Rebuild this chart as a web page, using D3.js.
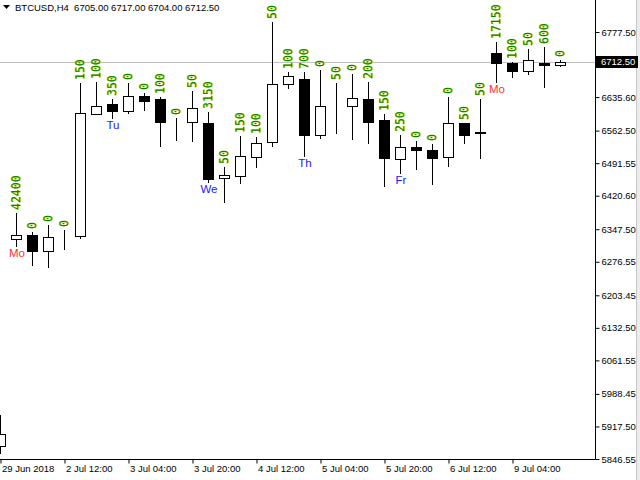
<!DOCTYPE html>
<html>
<head>
<meta charset="utf-8">
<script src="https://cdn.jsdelivr.net/npm/d3@7"></script>
<style>
  body { margin: 0; background: #fff; }
  text { font-family: Tahoma, 'Liberation Sans', Arial, sans-serif; }
</style>
</head>
<body>
<script>
const w = 640
const h = 480
const plotRight = 595
const plotBottom = 459

// H4 bars, 29 Jun 2018 20:00 .. 9 Jul 2018 16:00
const opens = [5875, 6325.5, 6335, 6300.5, 6330, 6332.5, 6598, 6620.5, 6606, 6637.5, 6631.5, 6582.5, 6582, 6578.5, 6458.5, 6464, 6504.5, 6537, 6663.5, 6675, 6553.5, 6615.5, 6615.5, 6631.5, 6585.5, 6501, 6527, 6520, 6504.5, 6578.5, 6559, 6732.5, 6710.5, 6693, 6710, 6705]
const highs = [5942.5, 6382, 6342, 6356.5, 6346, 6665.5, 6669, 6631, 6667, 6644, 6636.5, 6589.5, 6649.5, 6602.5, 6484, 6550.5, 6549, 6800, 6691, 6691, 6694.5, 6667, 6686, 6669, 6598.5, 6553, 6540, 6532.5, 6636.5, 6579, 6631, 6755, 6713, 6740.5, 6745.5, 6717]
const lows = [5860.5, 6311, 6269.5, 6266, 6303.5, 6327.5, 6598, 6589.5, 6601.5, 6607.5, 6529.5, 6542, 6540.5, 6451, 6407.5, 6449, 6484, 6529.5, 6654.5, 6508, 6547, 6558, 6543.5, 6536, 6442.5, 6470.5, 6479.5, 6447, 6486, 6536, 6503.5, 6669, 6680, 6685.5, 6658, 6704]
const closes = [5901, 6335, 6300.5, 6330, 6330.5, 6600, 6616, 6606, 6637.5, 6627.5, 6582, 6582.5, 6611, 6457, 6465.5, 6507, 6535, 6663.5, 6681, 6553.5, 6615.5, 6616, 6633, 6582, 6503.5, 6527, 6519.5, 6503.5, 6578.5, 6553.5, 6557, 6709.5, 6693, 6716, 6705, 6712.5]
const tickVolumes = ['', '42400', '0', '0', '0', '150', '100', '350', '0', '0', '100', '0', '50', '3150', '50', '150', '100', '50', '100', '700', '0', '50', '0', '200', '150', '250', '0', '0', '0', '50', '50', '17150', '100', '50', '600', '0']

const dayIndex = [1, 7, 13, 19, 25, 31]
const dayNames = ['Mo', 'Tu', 'We', 'Th', 'Fr', 'Mo']

const timeTickIndex = [0, 4, 8, 12, 16, 20, 24, 28, 32]
const timeTickLabels = ['29 Jun 2018', '2 Jul 12:00', '3 Jul 04:00', '3 Jul 20:00', '4 Jul 12:00', '5 Jul 04:00', '5 Jul 20:00', '6 Jul 12:00', '9 Jul 04:00']

const priceTicks = [6777.50, 6706.55, 6635.60, 6562.50, 6491.55, 6420.60, 6347.50, 6276.55, 6203.45, 6132.50, 6061.55, 5988.45, 5917.50, 5846.55]

const header = 'BTCUSD,H4  6705.00 6717.00 6704.00 6712.50'
const lastPrice = 6712.50

const bars = opens.map((o, i) => ({ i, o, h: highs[i], l: lows[i], c: closes[i], v: tickVolumes[i] }))

const xScale = d3.scaleLinear()
  .domain([0, bars.length - 1])
  .range([0, 16 * (bars.length - 1)])

const yScale = d3.scaleLinear()
  .domain([5846.55, 6777.50])
  .range([plotBottom, 32])

const svg = d3.select('body').append('svg')
  .attr('width', w)
  .attr('height', h)
  .style('display', 'block')

svg.append('clipPath').attr('id', 'plot')
  .append('rect')
  .attr('x', 0).attr('y', 0)
  .attr('width', plotRight).attr('height', plotBottom)

// right edge strip
svg.append('rect')
  .attr('x', 637).attr('y', 0)
  .attr('width', 3).attr('height', h)
  .attr('fill', '#ececec')
svg.append('line')
  .attr('x1', 636.5).attr('x2', 636.5)
  .attr('y1', 0).attr('y2', h)
  .attr('stroke', '#c8c8c8')

// price line
svg.append('line')
  .attr('x1', 0).attr('x2', plotRight)
  .attr('y1', Math.round(yScale(lastPrice)) + 0.5)
  .attr('y2', Math.round(yScale(lastPrice)) + 0.5)
  .attr('stroke', '#c0c0c0')

const px = v => Math.round(xScale(v))
const py = v => Math.round(yScale(v))

const plot = svg.append('g').attr('clip-path', 'url(#plot)')

const candle = plot.selectAll('g.candle')
  .data(bars)
  .join('g')
  .attr('class', 'candle')

candle.append('line')
  .attr('x1', d => px(d.i) + 0.5)
  .attr('x2', d => px(d.i) + 0.5)
  .attr('y1', d => py(d.h))
  .attr('y2', d => py(d.l) + 1)
  .attr('stroke', '#000')

candle.append('rect')
  .attr('x', d => px(d.i) - 4.5)
  .attr('y', d => py(Math.max(d.o, d.c)) + 0.5)
  .attr('width', 10)
  .attr('height', d => Math.max(0, py(Math.min(d.o, d.c)) - py(Math.max(d.o, d.c))))
  .attr('fill', d => d.c >= d.o ? '#fff' : '#000')
  .attr('stroke', '#000')

// tick volume labels above each bar
const vol = svg.selectAll('g.vol')
  .data(bars.filter(d => d.v !== ''))
  .join('g')
  .attr('class', 'vol')
  .attr('transform', d => 'translate(' + px(d.i) + ',' + (py(d.h) - 3) + ') rotate(-90)')

vol.append('text')
  .attr('y', 0.8)
  .attr('dy', '0.36em')
  .attr('fill', '#d8d800')
  .style('font-family', "'DejaVu Sans Mono', monospace")
  .style('font-size', '11.5px')
  .text(d => d.v)

vol.append('text')
  .attr('dy', '0.36em')
  .attr('fill', '#008800')
  .style('font-family', "'DejaVu Sans Mono', monospace")
  .style('font-size', '11.5px')
  .text(d => d.v)

// day separators
svg.selectAll('text.day')
  .data(dayIndex)
  .join('text')
  .attr('class', 'day')
  .attr('x', d => px(d) + 1)
  .attr('y', d => py(lows[d]) + 11)
  .attr('text-anchor', 'middle')
  .attr('fill', (d, i) => dayNames[i] === 'Mo' ? '#ff3030' : '#2020ff')
  .style('font-size', '11.5px')
  .text((d, i) => dayNames[i])

// axes
const xAxis = d3.axisBottom(xScale)
  .tickValues(timeTickIndex)
  .tickFormat((d, i) => timeTickLabels[i])
  .tickSize(4)
  .tickSizeOuter(0)

const gx = svg.append('g')
  .attr('transform', 'translate(0.5,' + (plotBottom + 0.5) + ')')
  .call(xAxis)
gx.select('.domain').remove()
gx.selectAll('text')
  .attr('text-anchor', 'start')
  .attr('x', 1)
  .attr('y', 6)
  .attr('dy', '0.71em')
  .attr('fill', '#000')
  .style('font-family', "Tahoma, 'Liberation Sans', sans-serif")
  .style('font-size', '9.5px')
gx.selectAll('line').attr('stroke', '#000')

// the tick under the current price box keeps its mark but its label is covered
const yAxis = d3.axisRight(yScale)
  .tickValues(priceTicks)
  .tickFormat(d => Math.abs(yScale(d) - yScale(lastPrice)) < 10 ? '' : d3.format('.2f')(d))
  .tickSize(4)
  .tickSizeOuter(0)

const gy = svg.append('g')
  .attr('transform', 'translate(' + (plotRight + 0.5) + ',0)')
  .call(yAxis)
gy.select('.domain').remove()
gy.selectAll('text')
  .attr('x', 6)
  .attr('fill', '#000')
  .style('font-family', "Tahoma, 'Liberation Sans', sans-serif")
  .style('font-size', '9.5px')
gy.selectAll('line').attr('stroke', '#000')

svg.append('path')
  .attr('d', 'M0,' + (plotBottom + 0.5) + 'H' + (plotRight + 0.5) + 'V0')
  .attr('fill', 'none')
  .attr('stroke', '#000')

// current price label
const lp = svg.append('g')
  .attr('transform', 'translate(' + (plotRight + 1) + ',' + Math.round(yScale(lastPrice)) + ')')
lp.append('rect')
  .attr('x', 0).attr('y', -6)
  .attr('width', 42).attr('height', 12)
  .attr('fill', '#000')
lp.append('text')
  .attr('x', 5)
  .attr('dy', '0.35em')
  .attr('fill', '#fff')
  .style('font-size', '9.5px')
  .text(d3.format('.2f')(lastPrice))

// header
svg.append('path')
  .attr('d', 'M3,5H10L6.5,9Z')
  .attr('fill', '#000')
svg.append('text')
  .attr('x', 15)
  .attr('y', 11)
  .attr('fill', '#000')
  .style('font-size', '9.5px')
  .style('white-space', 'pre')
  .text(header)
</script>
</body>
</html>
